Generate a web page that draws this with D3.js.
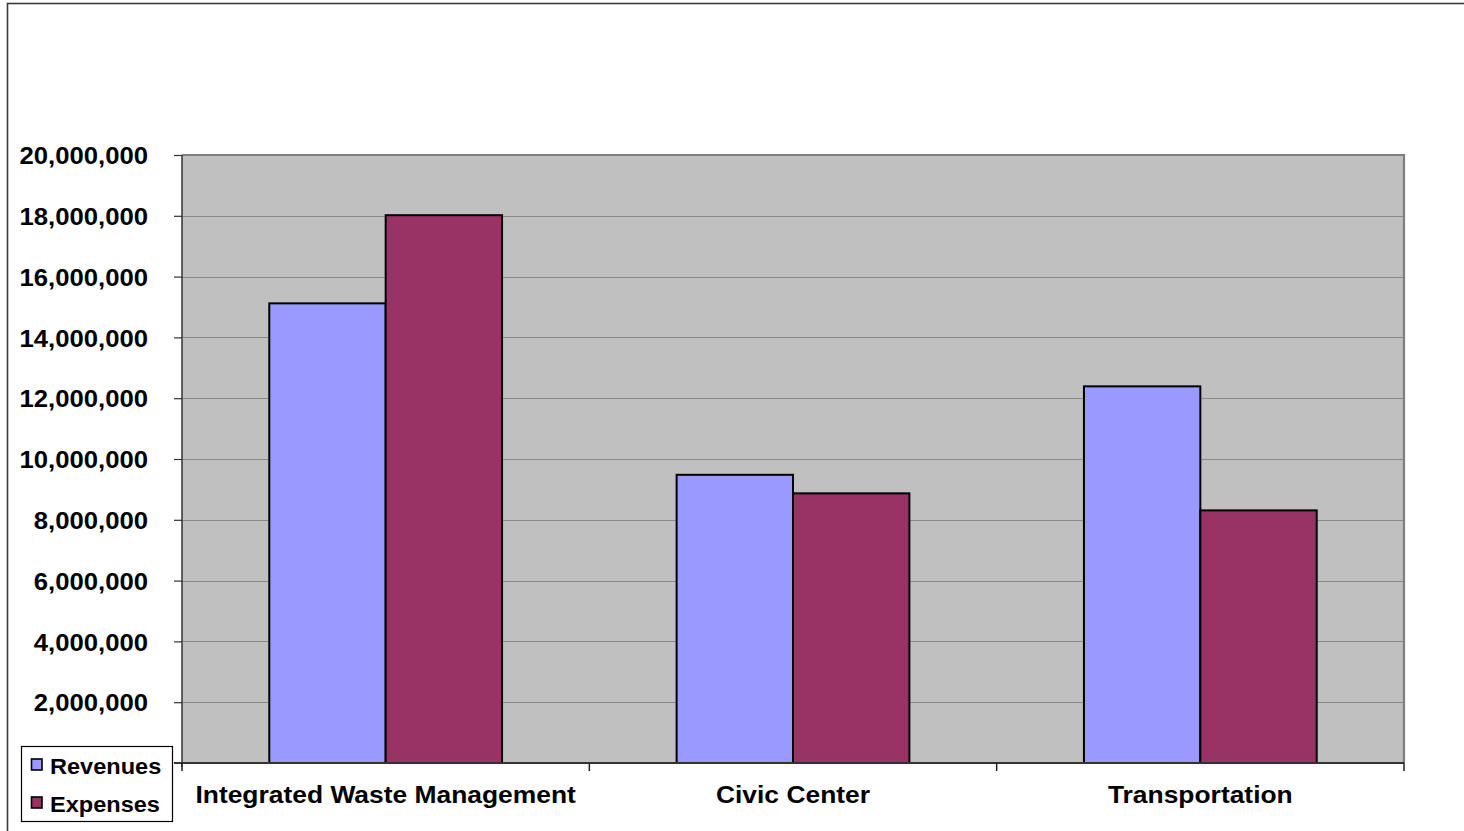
<!DOCTYPE html>
<html>
<head>
<meta charset="utf-8">
<script src="https://cdn.jsdelivr.net/npm/d3@7"></script>
<style>
  html, body { margin: 0; padding: 0; background: #fff; }
  svg { display: block; font-family: Arial, "Liberation Sans", sans-serif; font-weight: bold; }
</style>
</head>
<body>
<svg id="chart" width="1464" height="831"></svg>
<script>
// Enterprise funds: revenues vs. expenses
const categories = ["Integrated Waste Management", "Civic Center", "Transportation"];
const seriesNames = ["Revenues", "Expenses"];
const revenues = [15120000, 9480000, 12390000];
const expenses = [18020000, 8870000, 8310000];
const yTicks = [2000000, 4000000, 6000000, 8000000, 10000000, 12000000, 14000000, 16000000, 18000000, 20000000];
const colors = ["#9999FF", "#993366"];

const svg = d3.select("#chart");

// outer chart frame (runs off the right and bottom edges)
svg.append("rect")
  .attr("x", 7.5).attr("y", 3.5)
  .attr("width", 1470).attr("height", 840)
  .attr("fill", "#fff").attr("stroke", "#3a3a3a").attr("stroke-width", 1.6);

const plot = { left: 182, right: 1404, top: 155, bottom: 763 };

const x = d3.scaleBand().domain(categories).range([plot.left, plot.right]).paddingInner(0).paddingOuter(0);
const y = d3.scaleLinear().domain([0, 20000000]).range([plot.bottom, plot.top]);

// plot background
svg.append("rect")
  .attr("x", plot.left).attr("y", plot.top)
  .attr("width", plot.right - plot.left).attr("height", plot.bottom - plot.top)
  .attr("fill", "#c0c0c0");

// gridlines
svg.append("g").selectAll("line").data(yTicks.filter(d => d < 20000000)).join("line")
  .attr("x1", plot.left).attr("x2", plot.right)
  .attr("y1", d => Math.round(y(d)) + 0.5).attr("y2", d => Math.round(y(d)) + 0.5)
  .attr("stroke", "#8a8a8a").attr("stroke-width", 1.2);

// plot border (top and right)
svg.append("path")
  .attr("d", `M${plot.left},${plot.top} H${plot.right} V${plot.bottom}`)
  .attr("fill", "none").attr("stroke", "#7f7f7f").attr("stroke-width", 2.2);

// bars: two per category, gap 150% of bar width
const barW = x.bandwidth() / 3.5;
const data = categories.flatMap((c, i) => [
  { cat: c, s: 0, v: revenues[i] },
  { cat: c, s: 1, v: expenses[i] }
]);
svg.append("g").selectAll("rect").data(data).join("rect")
  .attr("x", d => x(d.cat) + barW * 0.75 + d.s * barW)
  .attr("y", d => y(d.v))
  .attr("width", barW)
  .attr("height", d => y(0) - y(d.v))
  .attr("fill", d => colors[d.s])
  .attr("stroke", "#000").attr("stroke-width", 2);

// y axis
const yAxis = svg.append("g")
  .attr("transform", `translate(${plot.left},0)`)
  .call(d3.axisLeft(y).tickValues(yTicks).tickSize(8).tickPadding(26).tickFormat(d3.format(",")));
yAxis.select(".domain").remove();
yAxis.append("line").attr("x1", 0).attr("x2", 0).attr("y1", plot.top).attr("y2", plot.bottom + 4)
  .attr("stroke", "#333").attr("stroke-width", 1.5);
yAxis.selectAll(".tick line").attr("stroke", "#333").attr("stroke-width", 1.2);
yAxis.selectAll(".tick text")
  .attr("fill", "#000").style("font-size", "24px").style("font-weight", "bold")
  .attr("dy", "0.36em");

// x axis
const xAxis = svg.append("g").attr("transform", `translate(0,${plot.bottom})`);
xAxis.append("line").attr("x1", plot.left - 8).attr("x2", plot.right).attr("y1", 0).attr("y2", 0)
  .attr("stroke", "#333").attr("stroke-width", 2);
const bounds = categories.map(c => x(c)).concat([plot.right]);
xAxis.selectAll("line.tk").data(bounds).join("line").attr("class", "tk")
  .attr("x1", d => d).attr("x2", d => d).attr("y1", 0).attr("y2", 8)
  .attr("stroke", "#222").attr("stroke-width", 1.5);
xAxis.selectAll("text").data(categories).join("text")
  .attr("x", d => x(d) + x.bandwidth() / 2)
  .attr("y", 40)
  .attr("text-anchor", "middle")
  .style("font-size", "24px")
  .attr("fill", "#000")
  .text(d => d);

// legend
const legend = svg.append("g");
legend.append("rect")
  .attr("x", 21.5).attr("y", 746.5).attr("width", 151).attr("height", 75)
  .attr("fill", "#fff").attr("stroke", "#000").attr("stroke-width", 1.2);
const items = legend.selectAll("g.item").data(seriesNames).join("g").attr("class", "item")
  .attr("transform", (d, i) => `translate(0,${i * 38})`);
items.append("rect")
  .attr("x", 31.5).attr("y", 759).attr("width", 10.5).attr("height", 11)
  .attr("fill", (d, i) => colors[i]).attr("stroke", "#000").attr("stroke-width", 1.6);
items.append("text")
  .attr("x", 50).attr("y", 773.5)
  .style("font-size", "22px")
  .attr("fill", "#000")
  .text(d => d);

// widen glyphs horizontally to the chart's rendered proportions
function stretch(sel, k) {
  sel.each(function () {
    const w = this.getComputedTextLength();
    d3.select(this).attr("textLength", w * k).attr("lengthAdjust", "spacingAndGlyphs");
  });
}
stretch(yAxis.selectAll(".tick text"), 1.07);
stretch(xAxis.selectAll("text"), 1.1);
stretch(items.selectAll("text"), 1.07);
</script>
</body>
</html>
